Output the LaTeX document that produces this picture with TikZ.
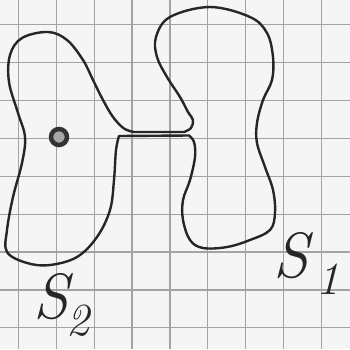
\documentclass[tikz,border=0pt]{standalone}
\usepackage{fontspec}
\usetikzlibrary{positioning}

\newcommand{\subidx}[2]{\kern#1\raisebox{-0.27em}{\fontsize{46}{48}\selectfont #2}}

\begin{document}
\begin{tikzpicture}[x=1pt, y=-1pt,
    gridline/.style={draw=black!36, line width=1.2pt},
    curve/.style={draw=black!85, line width=2.4pt, line join=round, line cap=round},
    dotmark/.style={circle, draw=black!80, fill=black!35, line width=4.5pt,
                    minimum size=16pt, inner sep=0pt},
    lbl/.style={font=\fontsize{64}{66}\selectfont\itshape, text=black!85, inner sep=0pt},
  ]
  \useasboundingbox[fill=black!4] (0,0) rectangle (350,349);

  % ============ squared paper ============
  \foreach \i in {0,...,8} {
    \draw[gridline] ({18.3+37.9*\i},0) -- ({18.3+37.9*\i},349);
    \draw[gridline] (0,{24.6+37.9*\i}) -- (350,{24.6+37.9*\i});
  }

  % ============ outline of S2 and S1 ============
  \draw[curve]
    plot[smooth, tension=0.6] coordinates {
      (119,136) (116,150) (114,180) (110,210) (97,237) (77,257) (50,265)
      (27,263) (7,252) (7,230) (13,197) (22,163) (25,137) (18,113)
      (9,82) (10,55) (22,38) (48,32) (67,40) (83,60) (93,80) (103,100)
      (113,117) (124,128.5) (134,132)}
    -- plot[smooth, tension=0.6] coordinates {
      (184,132) (191,128) (193,120) (188,112) (180,97) (167,77) (157,57)
      (156,37) (170,17) (210,7) (250,17) (267,33) (273,57) (272,80)
      (263,100) (257,123) (257,143) (265,167) (273,190) (275,213)
      (270,230) (250,240) (227,247) (203,248) (190,240) (183,220)
      (183,200) (190,180) (195,157) (194,142) (189,135.5)}
    -- cycle;

  % ============ point inside S2 ============
  \node[dotmark] (p) at (59,137) {};

  % ============ labels ============
  \node[lbl, anchor=base west] (s1) at (273,277) {S\subidx{8pt}{1}};
  \node[lbl, anchor=base west] (s2) at (33,318) {S\subidx{-2pt}{2}};
\end{tikzpicture}
\end{document}
